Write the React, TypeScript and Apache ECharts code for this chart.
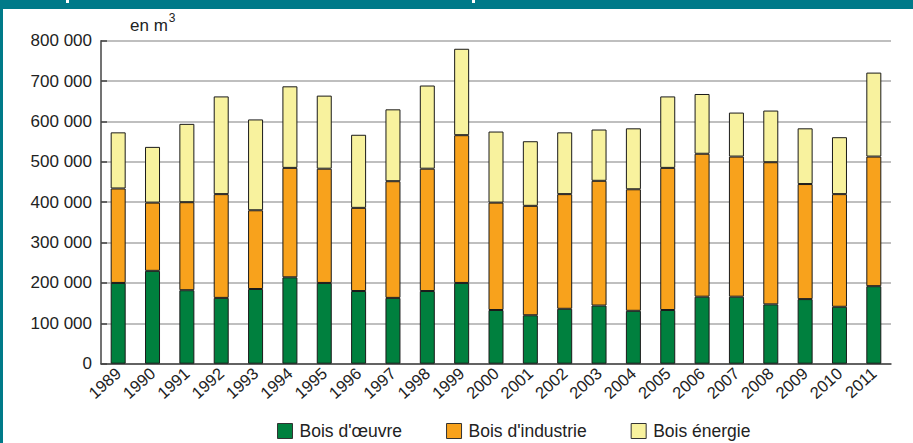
import React, { useEffect, useRef } from "react";
import * as echarts from "echarts";

const years = ["1989","1990","1991","1992","1993","1994","1995","1996","1997","1998","1999","2000","2001","2002","2003","2004","2005","2006","2007","2008","2009","2010","2011"];
// cumulative tops
const boisOeuvre = [200000,230000,182000,163000,185000,214000,200000,180000,163000,180000,200000,133000,120000,136000,144000,131000,133000,166000,166000,147000,160000,141000,192000];
const topIndustrie = [434000,399000,400000,420000,380000,485000,483000,386000,452000,483000,566000,399000,391000,420000,453000,432000,485000,520000,513000,499000,445000,420000,513000];
const topEnergie = [573000,537000,594000,662000,605000,687000,664000,567000,630000,689000,780000,575000,551000,573000,580000,583000,662000,668000,622000,627000,583000,561000,721000];
const boisIndustrie = topIndustrie.map((t, i) => t - boisOeuvre[i]);
const boisEnergie = topEnergie.map((t, i) => t - topIndustrie[i]);
const seriesNames = ["Bois d'œuvre", "Bois d'industrie", "Bois énergie"];
const colors = ["#00803e", "#f8a21c", "#f8f29e"];

const FONT = "'Liberation Sans', Arial, sans-serif";

export default function App() {
  const ref = useRef<HTMLDivElement>(null);
  useEffect(() => {
    document.body.style.margin = "0";
    const chart = echarts.init(ref.current!, null, { renderer: "svg" });
    const mk = (name: string, data: number[], color: string) => ({
      name,
      type: "bar",
      stack: "total",
      barWidth: 15,
      data,
      itemStyle: { color, borderColor: "#1a1a1a", borderWidth: 1 },
    });
    chart.setOption({
      animation: false,
      textStyle: { fontFamily: FONT },
      grid: { left: 101, right: 22, top: 40.7, bottom: 79.3, containLabel: false },
      legend: {
        left: 272,
        top: 417,
        itemWidth: 15,
        itemHeight: 15,
        itemGap: 44,
        icon: "rect",
        textStyle: { fontSize: 17.5, color: "#222", fontFamily: FONT, padding: [0, 0, 0, 2] },
        data: seriesNames.map((n, i) => ({ name: n, itemStyle: { color: colors[i], borderColor: "#333", borderWidth: 1 } })),
      },
      xAxis: {
        type: "category",
        data: years,
        axisLine: { lineStyle: { color: "#444", width: 1.5 } },
        axisTick: { show: false },
        axisLabel: { rotate: 42, fontSize: 16.5, color: "#222", margin: 7, fontFamily: FONT },
      },
      yAxis: {
        type: "value",
        min: 0,
        max: 800000,
        interval: 100000,
        axisLine: { show: true, lineStyle: { color: "#444", width: 1.5 } },
        axisTick: { show: true, inside: true, length: 6, lineStyle: { color: "#444", width: 1.5 } },
        splitLine: { lineStyle: { color: "#aaa", width: 1.5 } },
        axisLabel: {
          fontSize: 17,
          color: "#222",
          margin: 9,
          fontFamily: FONT,
          formatter: (v: number) => String(v).replace(/\B(?=(\d{3})+(?!\d))/g, " "),
        },
      },
      series: [
        mk(seriesNames[0], boisOeuvre, colors[0]),
        mk(seriesNames[1], boisIndustrie, colors[1]),
        mk(seriesNames[2], boisEnergie, colors[2]),
      ],
      graphic: [
        { type: "rect", left: 0, top: 0, shape: { width: 913, height: 9 }, style: { fill: "#007a89" }, silent: true },
        { type: "rect", left: 0, top: 0, shape: { width: 3, height: 443 }, style: { fill: "#007a89" }, silent: true },
        { type: "rect", left: 66, top: 0, shape: { width: 3, height: 3 }, style: { fill: "#ffffff" }, silent: true },
        { type: "rect", left: 472, top: 0, shape: { width: 3, height: 3 }, style: { fill: "#ffffff" }, silent: true },
        {
          type: "text",
          left: 130,
          top: 12,
          style: {
            text: "{a|en m}{s|3}",
            rich: {
              a: { fontSize: 17, fontFamily: FONT, fill: "#222", verticalAlign: "bottom", lineHeight: 22 },
              s: { fontSize: 12, fontFamily: FONT, fill: "#222", verticalAlign: "top", lineHeight: 22, padding: [0, 0, 10, 1] },
            },
          },
        },
      ],
    });
    return () => chart.dispose();
  }, []);
  return <div ref={ref} style={{ position: "absolute", left: 0, top: 0, width: 913, height: 443 }} />;
}
